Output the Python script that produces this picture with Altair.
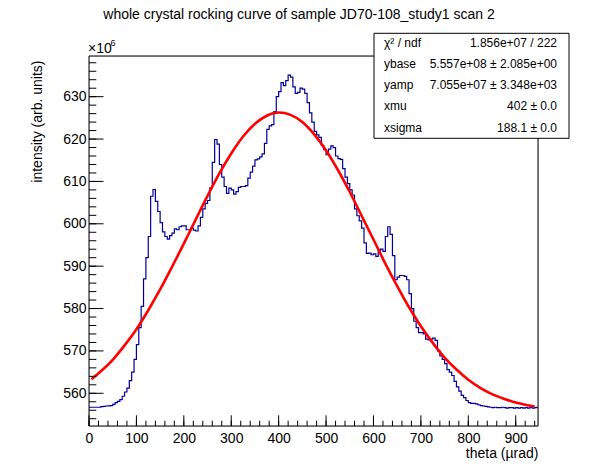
import altair as alt
import pandas as pd

# ---------------- data (values in units of 1e6) ----------------
bin_width = 5
hist_counts = [
    556.7, 556.7, 556.7, 556.7, 556.7, 556.85, 556.9, 557.0, 557.05, 557.1,
    557.4, 557.8, 558.1, 558.5, 559.3, 560.3, 561.2, 563.0, 565.0, 568.0,
    571.5, 575.5, 580.5, 587.0, 592.0, 597.0, 606.5, 608.1, 605.3, 602.9,
    600.3, 598.1, 597.0, 596.4, 597.2, 597.8, 598.8, 598.6, 599.3, 599.5,
    599.5, 598.6, 598.6, 599.0, 598.5, 598.3, 599.5, 601.5, 603.5, 604.8,
    605.5, 608.5, 614.5, 619.9, 618.8, 614.0, 611.0, 608.8, 607.2, 608.4,
    608.0, 607.0, 607.6, 608.6, 608.8, 608.8, 609.0, 610.8, 612.2, 613.6,
    615.1, 615.3, 615.8, 616.5, 619.0, 622.3, 623.1, 623.4, 626.5, 630.0,
    631.2, 633.3, 632.6, 633.8, 635.1, 634.6, 632.3, 630.8, 631.0, 632.0,
    631.8, 630.8, 628.6, 626.2, 624.0, 621.8, 621.0, 620.4, 618.5, 617.5,
    616.3, 617.6, 618.4, 618.0, 616.0, 615.4, 615.2, 613.0, 611.0, 609.5,
    608.0, 606.8, 603.5, 601.9, 600.7, 599.0, 595.5, 593.0, 593.1, 592.7,
    592.9, 592.3, 593.6, 594.0, 593.5, 597.0, 599.3, 597.5, 592.5, 586.8,
    587.4, 587.8, 587.8, 587.6, 586.8, 583.5, 580.0, 577.0, 575.5, 574.3,
    574.3, 574.0, 572.8, 572.6, 572.8, 573.0, 572.5, 570.0, 568.8, 568.0,
    567.0, 565.6, 565.0, 564.2, 562.8, 561.5, 560.5, 559.5, 559.0, 558.3,
    557.8, 557.6, 557.6, 557.5, 557.3, 557.1, 557.0, 556.9, 556.8, 556.7,
    556.6, 556.7, 556.6, 556.6, 556.7, 556.6, 556.5, 556.6, 556.6, 556.5,
    556.6, 556.5, 556.6, 556.5, 556.6, 556.5, 556.7, 556.5, 556.6, 556.7,
]
x_max = 947

fit_theta = [5, 25, 50, 75, 100, 125, 150, 175, 200, 225, 250, 275, 300, 325,
             350, 375, 400, 425, 450, 475, 500, 525, 550, 575, 600, 625, 650,
             675, 700, 725, 750, 775, 800, 825, 850, 875, 900, 925, 940]
fit_values = [563.3, 565.2, 567.9, 571.3, 575.1, 579.6, 584.5, 589.8, 595.3,
              601.0, 606.6, 611.9, 616.6, 620.6, 623.6, 625.5, 626.25, 625.7,
              624.0, 621.1, 617.3, 612.7, 607.5, 601.9, 596.3, 590.6, 585.3,
              580.3, 575.8, 571.9, 568.4, 565.6, 563.2, 561.3, 559.8, 558.7,
              557.8, 557.2, 556.9]

title_text = "whole crystal rocking curve of sample JD70-108_study1 scan 2"
stats_names = ["\u03c7\u00b2 / ndf", "ybase", "yamp", "xmu", "xsigma"]
stats_values = ["1.856e+07 / 222", "5.557e+08 \u00b1 2.085e+00",
                "7.055e+07 \u00b1 3.348e+03", "402 \u00b1 0.0", "188.1 \u00b1 0.0"]

y_major = [560, 570, 580, 590, 600, 610, 620, 630]
y_minor = list(range(554, 640, 2))
x_major = [0, 100, 200, 300, 400, 500, 600, 700, 800, 900]
x_minor = list(range(0, 947, 20))

# ---------------- layout ----------------
W, H = 449, 370
FONT = "Liberation Sans"
xs = alt.Scale(domain=[0, x_max], nice=False, zero=False)
ys = alt.Scale(domain=[552.28, 639.6], nice=False, zero=False)

edges = [i * bin_width for i in range(len(hist_counts))]
hist_df = pd.DataFrame({"theta": edges + [x_max],
                        "counts": hist_counts + [hist_counts[-1]]})
fit_df = pd.DataFrame({"theta": fit_theta, "fit": fit_values})

xaxis = alt.Axis(values=x_major, ticks=False, tickSize=0, domain=False, grid=False,
                 labelFlush=False,
                 labelFont=FONT, labelFontSize=14, labelColor="black",
                 labelBaseline="alphabetic", labelPadding=16,
                 title="theta (\u00b5rad)", titleFont=FONT, titleFontSize=14,
                 titleFontWeight="normal", titleColor="black",
                 titleX=W, titleY=31, titleAlign="right", titleBaseline="alphabetic")
yaxis = alt.Axis(values=y_major, ticks=False, tickSize=0, domain=False, grid=False,
                 labelFlush=False,
                 labelFont=FONT, labelFontSize=14, labelColor="black", labelPadding=3,
                 title="intensity (arb. units)", titleFont=FONT, titleFontSize=14,
                 titleFontWeight="normal", titleColor="black",
                 titleX=-52, titleY=4, titleAlign="right", titleBaseline="middle",
                 titleAngle=270)

hist = alt.Chart(hist_df).mark_line(interpolate="step-after", color="#000099",
                                     strokeWidth=1.2, clip=True).encode(
    x=alt.X("theta:Q", scale=xs, axis=xaxis),
    y=alt.Y("counts:Q", scale=ys, axis=yaxis),
)

fit = alt.Chart(fit_df).mark_line(interpolate="monotone", color="#ff0000",
                                  strokeWidth=2.6, clip=True).encode(
    x=alt.X("theta:Q", scale=xs),
    y=alt.Y("fit:Q", scale=ys),
)

frame = alt.Chart(pd.DataFrame({"a": [0]})).mark_rect(
    fill=None, stroke="black", strokeWidth=1).encode(
    x=alt.value(0), x2=alt.value(W), y=alt.value(0), y2=alt.value(H))

ymaj = alt.Chart(pd.DataFrame({"v": y_major})).mark_rule(color="black", strokeWidth=1).encode(
    y=alt.Y("v:Q", scale=ys), x=alt.value(0), x2=alt.value(14.5))
ymin = alt.Chart(pd.DataFrame({"v": y_minor})).mark_rule(color="black", strokeWidth=1).encode(
    y=alt.Y("v:Q", scale=ys), x=alt.value(0), x2=alt.value(7.3))
xmaj = alt.Chart(pd.DataFrame({"v": x_major})).mark_rule(color="black", strokeWidth=1).encode(
    x=alt.X("v:Q", scale=xs), y=alt.value(H), y2=alt.value(H - 10.7))
xmin = alt.Chart(pd.DataFrame({"v": x_minor})).mark_rule(color="black", strokeWidth=1).encode(
    x=alt.X("v:Q", scale=xs), y=alt.value(H), y2=alt.value(H - 5.3))

title = alt.Chart(pd.DataFrame({"t": [title_text]})).mark_text(
    font=FONT, fontSize=14, align="center", baseline="alphabetic", color="black").encode(
    text="t:N", x=alt.value(210), y=alt.value(-37))

exp_base = alt.Chart(pd.DataFrame({"t": ["\u00d710"]})).mark_text(
    font=FONT, fontSize=14, align="left", baseline="alphabetic", color="black").encode(
    text="t:N", x=alt.value(-1), y=alt.value(-3))
exp_sup = alt.Chart(pd.DataFrame({"t": ["6"]})).mark_text(
    font=FONT, fontSize=9, align="left", baseline="alphabetic", color="black").encode(
    text="t:N", x=alt.value(21.5), y=alt.value(-10))

box = alt.Chart(pd.DataFrame({"a": [0]})).mark_rect(
    fill="white", stroke="black", strokeWidth=1).encode(
    x=alt.value(285), x2=alt.value(480), y=alt.value(-22.7), y2=alt.value(82.3))

row_y = [-12.7, 8.3, 29.3, 50.3, 71.7]
stat_layers = []
for name, val, yy in zip(stats_names, stats_values, row_y):
    stat_layers.append(alt.Chart(pd.DataFrame({"t": [name]})).mark_text(
        font=FONT, fontSize=12, align="left", baseline="middle", color="black").encode(
        text="t:N", x=alt.value(295), y=alt.value(yy)))
    stat_layers.append(alt.Chart(pd.DataFrame({"t": [val]})).mark_text(
        font=FONT, fontSize=12, align="right", baseline="middle", color="black").encode(
        text="t:N", x=alt.value(468), y=alt.value(yy)))

chart = alt.layer(
    hist, fit, ymin, ymaj, xmin, xmaj, frame, title, exp_base, exp_sup, box, *stat_layers
).properties(
    width=W, height=H,
    padding={"left": 81, "top": 48, "right": 52, "bottom": 40},
    autosize=alt.AutoSizeParams(type="none"),
).configure_view(stroke=None).configure(background="white")

chart.save("out.html", embed_options={"renderer": "svg", "actions": False})
